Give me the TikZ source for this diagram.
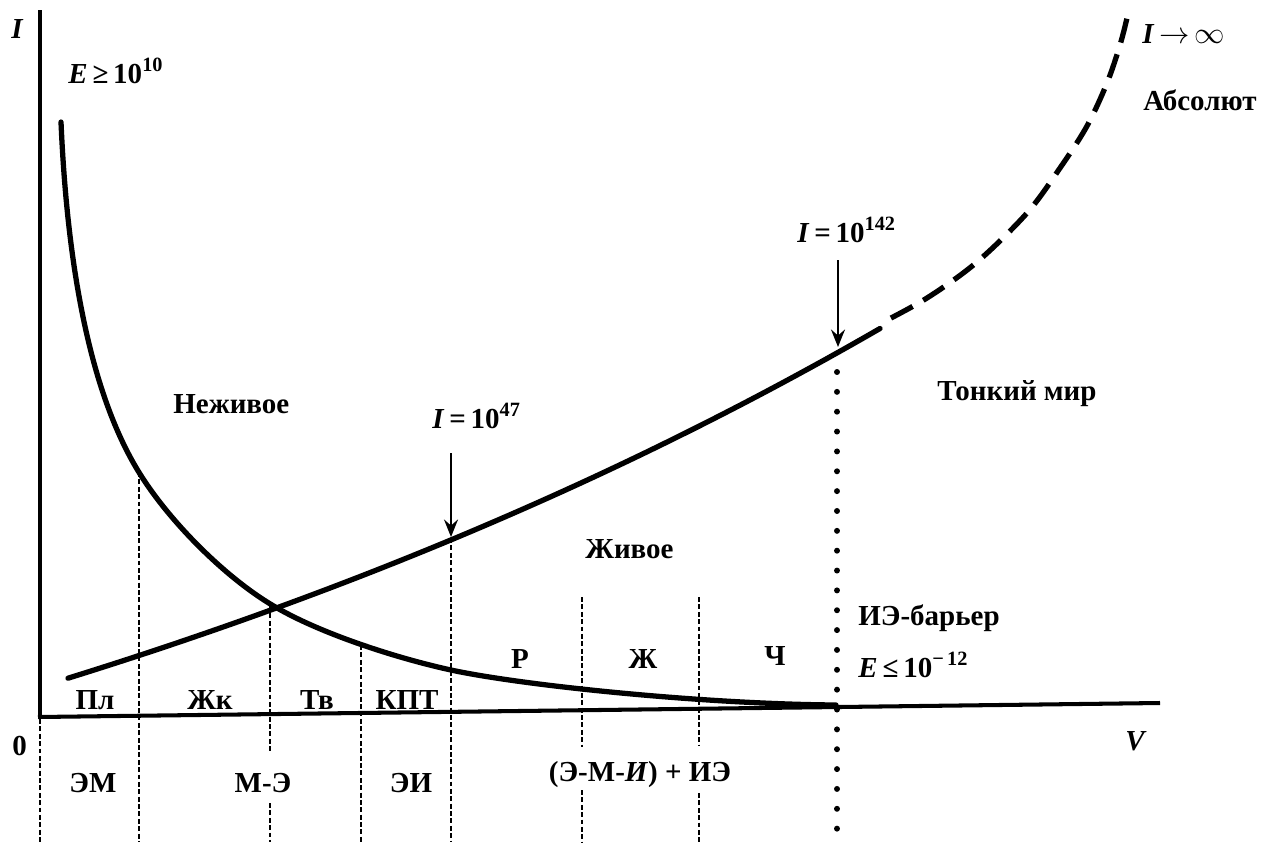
\documentclass[tikz,border=0pt]{standalone}
\usepackage{fontspec}
\setmainfont{Liberation Serif}
\usetikzlibrary{arrows.meta}
\begin{document}
\begin{tikzpicture}[x=0.02cm,y=-0.02cm,
  lbl/.style={font=\fontsize{16.5}{19}\selectfont\bfseries, inner sep=0pt, anchor=base west},
  lblc/.style={font=\fontsize{16.5}{19}\selectfont\bfseries, inner sep=0pt, anchor=base},
  axisline/.style={line width=2.3pt},
  curve/.style={line width=3pt, line cap=round, line join=round},
  fine dashes/.style={line width=1.5pt, dash pattern=on 2.8pt off 1.4pt},
  round dots/.style={line width=3.4pt, line cap=round, dash pattern=on 0pt off 11.3pt},
  pointer/.style={line width=1.3pt, -{Stealth[length=10pt,width=8pt,inset=3.5pt]}},
]
\useasboundingbox (0,0) rectangle (1264,842);

% axes
\coordinate (O) at (40,717);
\coordinate (Ytop) at (40,10);
\coordinate (Xend) at (1160,703);
\draw[axisline] (Ytop) -- (O);
\draw[axisline] (38,717) -- (Xend);

% decreasing curve
\coordinate (d0) at (61,122);
\coordinate (d1) at (140,474);
\coordinate (X)  at (272,605);
\coordinate (d3) at (451,670);
\coordinate (d4) at (836,705);
\draw[curve] (d0) .. controls (70,330) and (110,426) .. (d1)
  .. controls (170,522) and (225,577) .. (X)
  .. controls (320,634) and (400,659) .. (d3)
  .. controls (520,685) and (700,704) .. (d4);

% increasing curve (solid)
\draw[curve] plot[domain=68:880, samples=60] (\x, {1085.8-387*exp(0.00077*\x)});
% increasing curve (dashed)
\draw[curve, line cap=butt, dash pattern=on 14pt off 7pt, dash phase=14pt] plot[smooth, tension=0.55] coordinates {
  (880,323.7) (927,298) (977,262) (1027,213) (1060,168) (1087,126) (1107,83) (1120,45) (1127,18)};

% vertical division lines
\coordinate (v0t) at (40,719);  \coordinate (v0b) at (40,842);
\coordinate (v1t) at (139,472); \coordinate (v1b) at (139,842);
\coordinate (v2t) at (270,606); \coordinate (v2m) at (270,753);
\coordinate (v2n) at (270,803); \coordinate (v2b) at (270,842);
\coordinate (v3t) at (361,645); \coordinate (v3b) at (361,842);
\coordinate (v4t) at (451,538); \coordinate (v4b) at (451,842);
\coordinate (v5t) at (582,597); \coordinate (v5m) at (582,747);
\coordinate (v5n) at (582,790); \coordinate (v5b) at (582,842);
\coordinate (v6t) at (699,597); \coordinate (v6m) at (699,745);
\coordinate (v6n) at (699,793); \coordinate (v6b) at (699,842);
\coordinate (v7t) at (837,372); \coordinate (v7b) at (837,842);
\draw[fine dashes] (v0t) -- (v0b);
\draw[fine dashes] (v1t) -- (v1b);
\draw[fine dashes] (v2t) -- (v2m);
\draw[fine dashes] (v2n) -- (v2b);
\draw[fine dashes] (v3t) -- (v3b);
\draw[fine dashes] (v4t) -- (v4b);
\draw[fine dashes] (v5t) -- (v5m);
\draw[fine dashes] (v5n) -- (v5b);
\draw[fine dashes] (v6t) -- (v6m);
\draw[fine dashes] (v6n) -- (v6b);
\draw[round dots] (v7t) -- (v7b);

% pointer arrows
\coordinate (a1s) at (451,453); \coordinate (a1e) at (451,537);
\coordinate (a2s) at (838,260); \coordinate (a2e) at (838,347);
\draw[pointer] (a1s) -- (a1e);
\draw[pointer] (a2s) -- (a2e);

% labels
\node[lbl] (yl) at (11,38) {\textit{I}};
\node[lbl] (emax) at (68,83) {\textit{E}\,≥\,10\textsuperscript{10}};
\node[lbl] (inf) at (1142,43) {\textit{I}\,$\rightarrow$\,$\infty$};
\node[lbl] (abs) at (1143,110) {Абсолют};
\node[lbl] (nezh) at (173,413) {Неживое};
\node[lbl] (i47) at (432,428) {\textit{I}\,=\,10\textsuperscript{47}};
\node[lbl] (i142) at (797,242) {\textit{I}\,=\,10\textsuperscript{142}};
\node[lbl] (tonk) at (937,400) {Тонкий мир};
\node[lbl] (zhiv) at (585,558) {Живое};
\node[lbl] (bar) at (858,625) {ИЭ-барьер};
\node[lbl] (emin) at (858,677) {\textit{E}\,≤\,10\textsuperscript{−\,12}};
\node[lbl] (vl) at (1125,750) {\textit{V}};
\node[lbl] (zero) at (12,755) {0};

\node[lblc] (pl) at (95,709) {Пл};
\node[lblc] (zhk) at (210,709) {Жк};
\node[lblc] (tv) at (317,709) {Тв};
\node[lblc] (kpt) at (407,709) {КПТ};
\node[lblc] (r) at (520,668) {Р};
\node[lblc] (zh) at (643,668) {Ж};
\node[lblc] (ch) at (775,665) {Ч};

\node[lblc] (em) at (93,792) {ЭМ};
\node[lblc] (me) at (263,792) {М-Э};
\node[lblc] (ei) at (411,792) {ЭИ};
\node[lblc] (emi) at (640,781) {(Э-М-\textit{И}) + ИЭ};
\end{tikzpicture}
\end{document}
